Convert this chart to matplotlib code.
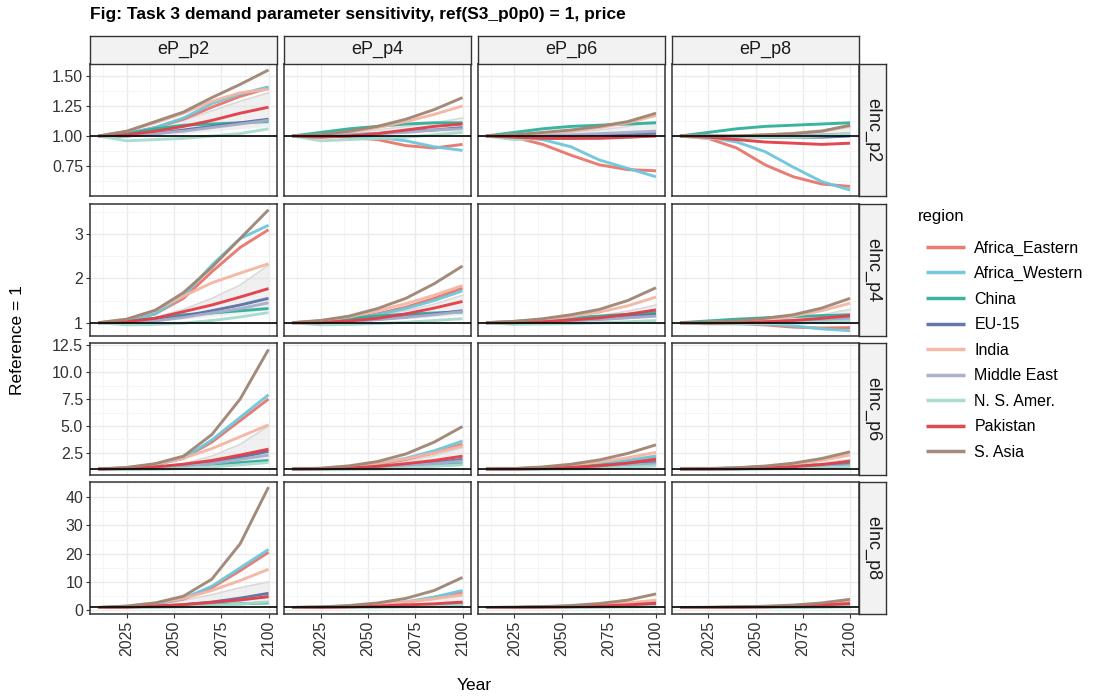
import matplotlib
matplotlib.use("Agg")
import matplotlib.pyplot as plt
from matplotlib.ticker import MultipleLocator, FixedLocator

plt.rcParams['font.family'] = ['Liberation Sans', 'DejaVu Sans']

years = [2010, 2025, 2040, 2055, 2070, 2085, 2100]
col_labels = ["eP_p2", "eP_p4", "eP_p6", "eP_p8"]
row_labels = ["eInc_p2", "eInc_p4", "eInc_p6", "eInc_p8"]
regions = ["Africa_Eastern", "Africa_Western", "China", "EU-15", "India",
           "Middle East", "N. S. Amer.", "Pakistan", "S. Asia"]
colors = ["#E8766B", "#6EC6DB", "#2FB09A", "#5E71A3", "#F5B5A3",
          "#A8AECB", "#A6DCCD", "#E23E48", "#9E8574"]

# values relative to 2010 (= 1), panels in row order: eInc_p2 x eP_p2..eP_p8, eInc_p4 ...
africa_eastern = [
    [1.02, 1.07, 1.14, 1.24, 1.33, 1.40], [1.00, 0.99, 0.97, 0.92, 0.90, 0.93],
    [0.99, 0.93, 0.84, 0.76, 0.72, 0.71], [0.98, 0.90, 0.76, 0.66, 0.60, 0.58],
    [1.04, 1.20, 1.55, 2.15, 2.70, 3.10], [1.02, 1.08, 1.20, 1.35, 1.55, 1.78],
    [1.00, 1.02, 1.05, 1.08, 1.12, 1.16], [0.99, 0.98, 0.95, 0.90, 0.88, 0.89],
    [1.10, 1.40, 2.00, 3.50, 5.50, 7.50], [1.03, 1.20, 1.45, 1.90, 2.50, 3.30],
    [1.01, 1.08, 1.20, 1.40, 1.70, 2.05], [1.00, 1.02, 1.06, 1.12, 1.20, 1.30],
    [1.30, 2.20, 4.00, 8.00, 14.0, 20.5], [1.10, 1.40, 2.00, 2.90, 4.30, 6.30],
    [1.00, 1.10, 1.30, 1.60, 2.00, 2.60], [1.00, 1.04, 1.10, 1.20, 1.35, 1.50],
]
africa_western = [
    [1.02, 1.07, 1.15, 1.27, 1.35, 1.41], [1.00, 1.00, 0.99, 0.96, 0.91, 0.88],
    [0.99, 0.97, 0.91, 0.80, 0.73, 0.66], [0.99, 0.95, 0.87, 0.74, 0.62, 0.55],
    [1.03, 1.20, 1.60, 2.30, 2.90, 3.20], [1.02, 1.08, 1.18, 1.32, 1.50, 1.72],
    [1.00, 1.02, 1.05, 1.09, 1.14, 1.20], [1.00, 0.99, 0.97, 0.93, 0.86, 0.82],
    [1.10, 1.40, 2.00, 3.70, 5.80, 7.90], [1.03, 1.20, 1.50, 2.00, 2.70, 3.60],
    [1.01, 1.08, 1.20, 1.45, 1.80, 2.20], [1.00, 1.02, 1.05, 1.10, 1.15, 1.22],
    [1.30, 2.20, 4.20, 8.50, 15.0, 21.5], [1.10, 1.40, 2.00, 3.00, 4.70, 7.00],
    [1.00, 1.10, 1.30, 1.60, 2.10, 2.80], [1.00, 1.03, 1.07, 1.13, 1.22, 1.35],
]
china = [
    [1.02, 1.06, 1.09, 1.10, 1.11, 1.12], [1.03, 1.06, 1.08, 1.10, 1.11, 1.11],
    [1.03, 1.06, 1.08, 1.09, 1.10, 1.11], [1.03, 1.06, 1.08, 1.09, 1.10, 1.11],
    [1.03, 1.10, 1.18, 1.22, 1.27, 1.32], [1.04, 1.10, 1.15, 1.19, 1.22, 1.24],
    [1.03, 1.07, 1.11, 1.15, 1.19, 1.23], [1.04, 1.08, 1.11, 1.14, 1.16, 1.18],
    [1.05, 1.15, 1.30, 1.45, 1.60, 1.80], [1.05, 1.12, 1.22, 1.32, 1.42, 1.50],
    [1.04, 1.12, 1.25, 1.37, 1.50, 1.60], [1.04, 1.12, 1.22, 1.32, 1.40, 1.47],
    [1.10, 1.40, 1.70, 2.00, 2.30, 2.60], [1.05, 1.20, 1.35, 1.50, 1.65, 1.80],
    [1.05, 1.15, 1.30, 1.45, 1.55, 1.65], [1.04, 1.12, 1.22, 1.32, 1.42, 1.50],
]
eu15 = [
    [1.00, 1.02, 1.05, 1.08, 1.11, 1.14], [1.00, 1.01, 1.02, 1.04, 1.05, 1.07],
    [1.00, 1.00, 1.00, 1.01, 1.01, 1.02], [1.00, 0.99, 0.99, 0.99, 0.99, 1.00],
    [1.00, 1.05, 1.15, 1.27, 1.40, 1.55], [1.00, 1.03, 1.08, 1.13, 1.20, 1.27],
    [1.00, 1.02, 1.05, 1.09, 1.14, 1.18], [1.00, 1.01, 1.02, 1.04, 1.07, 1.10],
    [1.00, 1.10, 1.30, 1.60, 2.10, 2.65], [1.00, 1.05, 1.15, 1.35, 1.60, 1.90],
    [1.00, 1.04, 1.12, 1.25, 1.40, 1.60], [1.00, 1.03, 1.08, 1.15, 1.25, 1.38],
    [1.00, 1.40, 2.00, 2.90, 4.30, 6.00], [1.00, 1.10, 1.30, 1.60, 2.00, 2.60],
    [1.00, 1.05, 1.15, 1.30, 1.50, 1.80], [1.00, 1.04, 1.10, 1.20, 1.35, 1.55],
]
india = [
    [1.04, 1.11, 1.19, 1.29, 1.36, 1.39], [1.01, 1.03, 1.07, 1.12, 1.18, 1.25],
    [1.01, 1.02, 1.04, 1.07, 1.11, 1.17], [1.00, 1.00, 1.01, 1.02, 1.04, 1.08],
    [1.08, 1.28, 1.60, 1.90, 2.12, 2.33], [1.05, 1.13, 1.27, 1.43, 1.62, 1.84],
    [1.02, 1.07, 1.14, 1.24, 1.38, 1.58], [1.01, 1.03, 1.08, 1.15, 1.27, 1.44],
    [1.15, 1.45, 2.00, 2.90, 4.00, 5.10], [1.07, 1.25, 1.55, 1.95, 2.50, 3.15],
    [1.04, 1.15, 1.35, 1.65, 2.05, 2.55], [1.02, 1.10, 1.23, 1.45, 1.80, 2.30],
    [1.50, 2.60, 4.20, 7.00, 10.5, 14.5], [1.20, 1.60, 2.20, 3.00, 4.10, 5.50],
    [1.05, 1.25, 1.50, 1.90, 2.60, 3.60], [1.03, 1.15, 1.35, 1.65, 2.20, 3.00],
]
middle_east = [
    [1.00, 1.02, 1.04, 1.07, 1.10, 1.13], [1.00, 1.01, 1.02, 1.03, 1.05, 1.06],
    [1.00, 1.00, 1.01, 1.02, 1.03, 1.04], [1.00, 1.00, 1.00, 1.00, 1.01, 1.02],
    [1.00, 1.04, 1.12, 1.22, 1.32, 1.45], [1.00, 1.03, 1.07, 1.12, 1.18, 1.25],
    [1.00, 1.02, 1.04, 1.07, 1.11, 1.15], [1.00, 1.01, 1.02, 1.04, 1.06, 1.09],
    [1.00, 1.10, 1.25, 1.50, 1.90, 2.30], [1.00, 1.05, 1.15, 1.30, 1.50, 1.75],
    [1.00, 1.03, 1.10, 1.20, 1.35, 1.50], [1.00, 1.03, 1.07, 1.13, 1.22, 1.33],
    [1.00, 1.30, 1.80, 2.60, 3.60, 5.00], [1.00, 1.10, 1.30, 1.50, 1.90, 2.30],
    [1.00, 1.05, 1.12, 1.25, 1.40, 1.60], [1.00, 1.04, 1.10, 1.18, 1.30, 1.45],
]
ns_amer = [
    [0.96, 0.97, 0.98, 1.00, 1.02, 1.06], [0.96, 0.97, 0.98, 0.99, 1.01, 1.03],
    [0.97, 0.98, 0.98, 0.99, 0.99, 1.00], [0.98, 0.98, 0.99, 0.99, 1.00, 1.02],
    [0.95, 0.96, 0.99, 1.05, 1.13, 1.23], [0.95, 0.96, 0.98, 1.01, 1.05, 1.09],
    [0.96, 0.97, 0.98, 1.00, 1.02, 1.05], [0.97, 0.97, 0.98, 0.99, 1.01, 1.04],
    [0.95, 0.97, 1.05, 1.20, 1.40, 1.60], [0.95, 0.97, 1.00, 1.10, 1.25, 1.40],
    [0.96, 0.98, 1.00, 1.06, 1.15, 1.30], [0.97, 0.98, 1.00, 1.04, 1.10, 1.20],
    [0.95, 1.00, 1.20, 1.60, 2.20, 3.00], [0.95, 1.00, 1.05, 1.20, 1.40, 1.70],
    [0.96, 0.98, 1.00, 1.08, 1.20, 1.35], [0.97, 0.98, 1.00, 1.05, 1.12, 1.25],
]
pakistan = [
    [1.01, 1.04, 1.08, 1.13, 1.19, 1.24], [0.99, 1.00, 1.02, 1.05, 1.08, 1.10],
    [0.99, 0.98, 0.98, 0.98, 0.99, 1.00], [0.99, 0.97, 0.95, 0.94, 0.93, 0.94],
    [1.02, 1.10, 1.25, 1.40, 1.58, 1.77], [1.00, 1.04, 1.10, 1.20, 1.33, 1.48],
    [1.00, 1.02, 1.06, 1.11, 1.19, 1.29], [0.99, 1.00, 1.02, 1.05, 1.10, 1.16],
    [1.05, 1.20, 1.45, 1.80, 2.30, 2.85], [1.02, 1.10, 1.25, 1.50, 1.80, 2.20],
    [1.00, 1.05, 1.15, 1.30, 1.55, 1.90], [1.00, 1.03, 1.10, 1.22, 1.42, 1.73],
    [1.10, 1.50, 2.00, 2.80, 3.70, 4.80], [1.00, 1.20, 1.50, 1.90, 2.30, 2.90],
    [1.00, 1.10, 1.25, 1.50, 1.90, 2.50], [1.00, 1.06, 1.20, 1.45, 1.85, 2.40],
]
s_asia = [
    [1.04, 1.12, 1.20, 1.32, 1.43, 1.55], [1.01, 1.04, 1.08, 1.14, 1.22, 1.32],
    [1.01, 1.03, 1.05, 1.08, 1.12, 1.19], [1.00, 1.00, 1.01, 1.02, 1.04, 1.09],
    [1.08, 1.28, 1.68, 2.25, 2.90, 3.55], [1.05, 1.15, 1.32, 1.55, 1.88, 2.28],
    [1.03, 1.09, 1.18, 1.30, 1.50, 1.79], [1.01, 1.04, 1.10, 1.18, 1.33, 1.55],
    [1.15, 1.50, 2.20, 4.20, 7.50, 12.1], [1.08, 1.30, 1.70, 2.40, 3.50, 4.95],
    [1.05, 1.20, 1.45, 1.85, 2.45, 3.25], [1.03, 1.12, 1.28, 1.55, 1.98, 2.60],
    [1.50, 2.60, 5.00, 11.0, 23.5, 43.5], [1.20, 1.70, 2.60, 4.20, 7.00, 11.6],
    [1.10, 1.30, 1.70, 2.40, 3.60, 5.80], [1.05, 1.20, 1.45, 1.85, 2.60, 3.90],
]
# the grey bundle of the remaining regions (upper / lower edge)
others_hi = [
    [1.02, 1.07, 1.13, 1.21, 1.29, 1.36], [1.01, 1.03, 1.05, 1.08, 1.11, 1.15],
    [1.00, 1.01, 1.03, 1.05, 1.08, 1.12], [1.00, 1.00, 1.01, 1.03, 1.05, 1.08],
    [1.03, 1.12, 1.30, 1.55, 1.85, 2.30], [1.02, 1.07, 1.15, 1.27, 1.42, 1.62],
    [1.01, 1.04, 1.09, 1.16, 1.26, 1.40], [1.00, 1.02, 1.05, 1.10, 1.18, 1.30],
    [1.05, 1.20, 1.50, 2.20, 3.30, 5.00], [1.03, 1.15, 1.35, 1.70, 2.25, 3.00],
    [1.02, 1.10, 1.25, 1.50, 1.85, 2.30], [1.01, 1.06, 1.15, 1.30, 1.55, 1.90],
    [1.20, 2.00, 3.50, 5.50, 8.00, 10.0], [1.10, 1.40, 1.90, 2.70, 3.80, 5.20],
    [1.03, 1.15, 1.35, 1.70, 2.20, 3.00], [1.02, 1.08, 1.20, 1.40, 1.70, 2.20],
]
others_lo = [
    [1.00, 1.01, 1.02, 1.04, 1.06, 1.08], [1.00, 1.00, 1.01, 1.02, 1.03, 1.04],
    [0.99, 0.99, 0.99, 1.00, 1.00, 1.01], [0.99, 0.99, 0.99, 0.99, 1.00, 1.00],
    [1.00, 1.03, 1.08, 1.14, 1.20, 1.30], [1.00, 1.02, 1.05, 1.09, 1.13, 1.18],
    [1.00, 1.01, 1.03, 1.06, 1.09, 1.12], [1.00, 1.00, 1.01, 1.03, 1.05, 1.08],
    [1.00, 1.05, 1.15, 1.30, 1.50, 1.80], [1.00, 1.03, 1.10, 1.20, 1.35, 1.55],
    [1.00, 1.02, 1.07, 1.15, 1.25, 1.40], [1.00, 1.02, 1.05, 1.10, 1.18, 1.28],
    [1.00, 1.15, 1.40, 1.80, 2.40, 3.20], [1.00, 1.05, 1.15, 1.30, 1.50, 1.80],
    [1.00, 1.03, 1.08, 1.15, 1.28, 1.45], [1.00, 1.02, 1.06, 1.12, 1.20, 1.32],
]
series = [africa_eastern, africa_western, china, eu15, india,
          middle_east, ns_amer, pakistan, s_asia]

row_ylim = [(0.50, 1.60), (0.70, 3.68), (0.45, 12.7), (-1.3, 45.3)]
row_ticks = [[0.75, 1.0, 1.25, 1.5], [1, 2, 3], [2.5, 5.0, 7.5, 10.0, 12.5], [0, 10, 20, 30, 40]]
row_ticklabels = [["0.75", "1.00", "1.25", "1.50"], ["1", "2", "3"],
                  ["2.5", "5.0", "7.5", "10.0", "12.5"], ["0", "10", "20", "30", "40"]]

W, H = 1097, 698
fig = plt.figure(figsize=(W / 100, H / 100), dpi=100)

col_left = [90, 284, 477.5, 671.5]
row_top = [64, 204, 343, 482]
pw, ph = 187, 132


def px(l, t, w, h):
    return [l / W, 1 - (t + h) / H, w / W, h / H]


edge = "#333333"
handles = []
for r in range(4):
    for c in range(4):
        k = r * 4 + c
        ax = fig.add_axes(px(col_left[c], row_top[r], pw, ph))
        ax.set_xlim(2005.5, 2104.5)
        ax.set_ylim(*row_ylim[r])
        ax.xaxis.set_major_locator(FixedLocator([2025, 2050, 2075, 2100]))
        ax.xaxis.set_minor_locator(FixedLocator([2012.5, 2037.5, 2062.5, 2087.5]))
        ax.yaxis.set_major_locator(FixedLocator(row_ticks[r]))
        t = row_ticks[r]
        step = t[1] - t[0]
        ax.yaxis.set_minor_locator(MultipleLocator(step / 2))
        ax.grid(which="major", color="#EBEBEB", lw=1.0)
        ax.grid(which="minor", color="#F4F4F4", lw=0.6)
        ax.set_axisbelow(True)
        for s in ax.spines.values():
            s.set_color(edge)
            s.set_linewidth(1.1)

        ax.fill_between(years, [1.0] + others_lo[k], [1.0] + others_hi[k],
                        color="#DADADA", alpha=0.4, lw=0)
        ax.plot(years, [1.0] + others_hi[k], color="#DADADA", lw=1.2)
        for name, vals, col in zip(regions, series, colors):
            ln, = ax.plot(years, [1.0] + vals[k], color=col, lw=2.1,
                          alpha=0.95, solid_capstyle="butt", label=name)
            if k == 0:
                handles.append(ln)
        ax.axhline(1.0, color="black", lw=1.2, zorder=5)

        ax.tick_params(which="minor", length=0)
        if c == 0:
            ax.set_yticklabels(row_ticklabels[r])
            ax.tick_params(axis="y", length=3, color=edge, labelsize=11.5,
                           labelcolor="#333333", pad=2)
        else:
            ax.tick_params(axis="y", length=0, labelleft=False)
        if r == 3:
            ax.set_xticklabels(["2025", "2050", "2075", "2100"], rotation=90)
            ax.tick_params(axis="x", length=3, color=edge, labelsize=11.5,
                           labelcolor="#333333", pad=2)
        else:
            ax.tick_params(axis="x", length=0, labelbottom=False)

# strips
for c in range(4):
    sa = fig.add_axes(px(col_left[c], 36, pw, 27.5))
    sa.set_facecolor("#F2F2F2")
    sa.set_xticks([])
    sa.set_yticks([])
    for s in sa.spines.values():
        s.set_color(edge)
        s.set_linewidth(1.0)
    sa.text(0.5, 0.5, col_labels[c], ha="center", va="center",
            fontsize=13, color="#1A1A1A", transform=sa.transAxes)
for r in range(4):
    sa = fig.add_axes(px(859, row_top[r], 27, ph))
    sa.set_facecolor("#F2F2F2")
    sa.set_xticks([])
    sa.set_yticks([])
    for s in sa.spines.values():
        s.set_color(edge)
        s.set_linewidth(1.0)
    sa.text(0.5, 0.5, row_labels[r], ha="center", va="center", rotation=-90,
            fontsize=13, color="#1A1A1A", transform=sa.transAxes)

fig.text(90 / W, 1 - 15 / H, "Fig: Task 3 demand parameter sensitivity, ref(S3_p0p0) = 1, price",
         ha="left", va="center", fontsize=12.5, fontweight="bold")
fig.text(18 / W, 1 - 340 / H, "Reference = 1", rotation=90, ha="center", va="center",
         fontsize=12.5)
fig.text(474 / W, 1 - 685 / H, "Year", ha="center", va="center", fontsize=12.5)

fig.text(918 / W, 1 - 216 / H, "region", ha="left", va="center", fontsize=12)
leg = fig.legend(handles=handles, labels=regions, loc="upper left",
                 bbox_to_anchor=(912 / W, 1 - 226 / H), frameon=False,
                 fontsize=11.5, handlelength=2.4, handletextpad=0.6,
                 labelspacing=0.66)
for h in leg.legend_handles:
    h.set_linewidth(2.5)

fig.savefig("out.png", dpi=100)
